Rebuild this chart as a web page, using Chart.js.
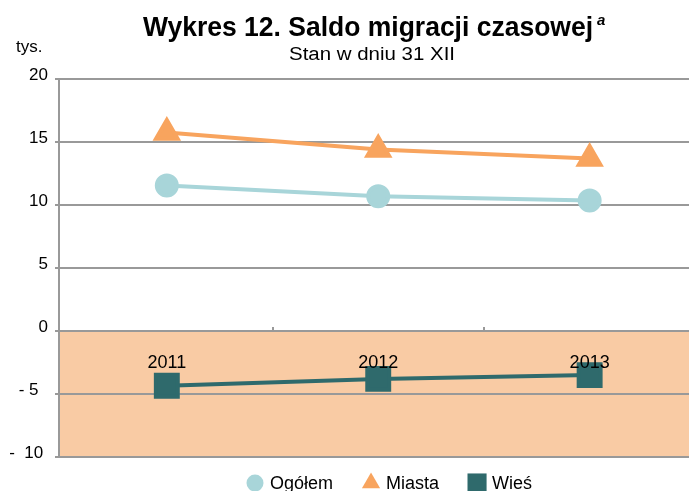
<!DOCTYPE html>
<html>
<head>
<meta charset="utf-8">
<script src="https://cdn.jsdelivr.net/npm/chart.js@4"></script>
<style>
  html, body { margin: 0; padding: 0; background: #fff; }
  #wrap { width: 689px; height: 491px; position: relative; }
</style>
</head>
<body>
<div id="wrap"><canvas id="migChart"></canvas></div>
<script>
// dane z wykresu (tys.)
const years = ['2011', '2012', '2013'];
const ogolem = [11.55, 10.7, 10.35];
const miasta = [15.75, 14.4, 13.7];
const wies = [-4.35, -3.8, -3.5];
const yTicks = [-10, -5, 0, 5, 10, 15, 20];
const yTickLabels = ['-  10 ', '- 5  ', '0', '5', '10', '15', '20'];

const FONT = "'Liberation Sans', Arial, sans-serif";
const legendR = [8.5, 10.5, 13.5];

function pts(arr) {
  return arr.map((v, i) => ({ x: i, y: v }));
}

// napis dopasowany do zadanej szerokosci
function fitText(ctx, txt, x, y, w) {
  const m = ctx.measureText(txt).width;
  ctx.save();
  ctx.translate(x, y);
  ctx.scale(w / m, 1);
  ctx.fillText(txt, 0, 0);
  ctx.restore();
}

const decor = {
  id: 'decor',
  beforeDraw(chart) {
    const { ctx, chartArea: a, scales: { y } } = chart;
    const y0 = y.getPixelForValue(0);
    ctx.save();
    ctx.fillStyle = '#F9CBA4';
    ctx.fillRect(a.left, y0, a.right - a.left, a.bottom - y0);
    ctx.restore();
  },
  afterDraw(chart) {
    const { ctx, scales: { x, y } } = chart;
    const y0 = y.getPixelForValue(0);
    ctx.save();
    ctx.fillStyle = '#000';
    ctx.textBaseline = 'alphabetic';

    // tytul
    ctx.font = 'bold 28px ' + FONT;
    fitText(ctx, 'Wykres 12. Saldo migracji czasowej', 143, 36, 450);
    ctx.font = 'italic bold 15px ' + FONT;
    ctx.fillText('a', 597, 25);
    ctx.font = '18px ' + FONT;
    fitText(ctx, 'Stan w dniu 31 XII', 289, 60, 166);
    ctx.font = '17px ' + FONT;
    ctx.fillText('tys.', 16, 52);

    // lata pod linia zera
    ctx.font = '18px ' + FONT;
    ctx.textAlign = 'center';
    years.forEach((t, i) => ctx.fillText(t, x.getPixelForValue(i), y0 + 37));

    // drobne znaczniki na osi
    ctx.strokeStyle = '#999';
    ctx.lineWidth = 2;
    for (let i = 0; i < years.length - 1; i++) {
      const px = Math.round(x.getPixelForValue(i + 0.5));
      ctx.beginPath();
      ctx.moveTo(px, y0);
      ctx.lineTo(px, y0 - 4);
      ctx.stroke();
    }

    // legenda
    ctx.textAlign = 'left';
    ctx.textBaseline = 'middle';
    let lx = 255;
    const ly = 483;
    chart.data.datasets.forEach((ds, i) => {
      ctx.fillStyle = ds.backgroundColor;
      Chart.helpers.drawPoint(ctx, { pointStyle: ds.pointStyle, radius: legendR[i], borderWidth: 0, rotation: 0 }, lx, ly);
      ctx.fillStyle = '#000';
      ctx.fillText(ds.label, lx + 15, ly + 1);
      lx += 15 + ctx.measureText(ds.label).width + 38;
    });
    ctx.restore();
  }
};

new Chart(document.getElementById('migChart'), {
  type: 'line',
  data: {
    datasets: [
      {
        label: 'Ogółem',
        data: pts(ogolem),
        borderColor: '#A8D5D9',
        backgroundColor: '#A8D5D9',
        borderWidth: 4,
        pointStyle: 'circle',
        pointRadius: 10
      },
      {
        label: 'Miasta',
        data: pts(miasta),
        borderColor: '#F8A45E',
        backgroundColor: '#F8A45E',
        borderWidth: 4,
        pointStyle: 'triangle',
        pointRadius: 12.5
      },
      {
        label: 'Wieś',
        data: pts(wies),
        borderColor: '#2F6A6C',
        backgroundColor: '#2F6A6C',
        borderWidth: 4,
        pointStyle: 'rect',
        pointRadius: 15.5
      }
    ]
  },
  options: {
    responsive: true,
    maintainAspectRatio: false,
    animation: false,
    layout: { autoPadding: false, padding: { top: 79, right: 0, left: 0, bottom: 34 } },
    plugins: {
      title: { display: false },
      tooltip: { enabled: false },
      legend: { display: false }
    },
    scales: {
      x: {
        type: 'linear',
        min: -0.51,
        max: 2.47,
        display: false
      },
      y: {
        min: -10,
        max: 20,
        afterBuildTicks(scale) {
          scale.ticks = yTicks.map(v => ({ value: v }));
        },
        afterFit(scale) { scale.width = 59; },
        grid: { color: '#999', lineWidth: 2, tickLength: 4 },
        border: { color: '#999', width: 2 },
        ticks: {
          padding: 7,
          labelOffset: -4,
          color: '#000',
          font: { family: FONT, size: 17 },
          callback: (v, i) => yTickLabels[yTicks.indexOf(v)]
        }
      }
    }
  },
  plugins: [decor]
});
</script>
</body>
</html>
